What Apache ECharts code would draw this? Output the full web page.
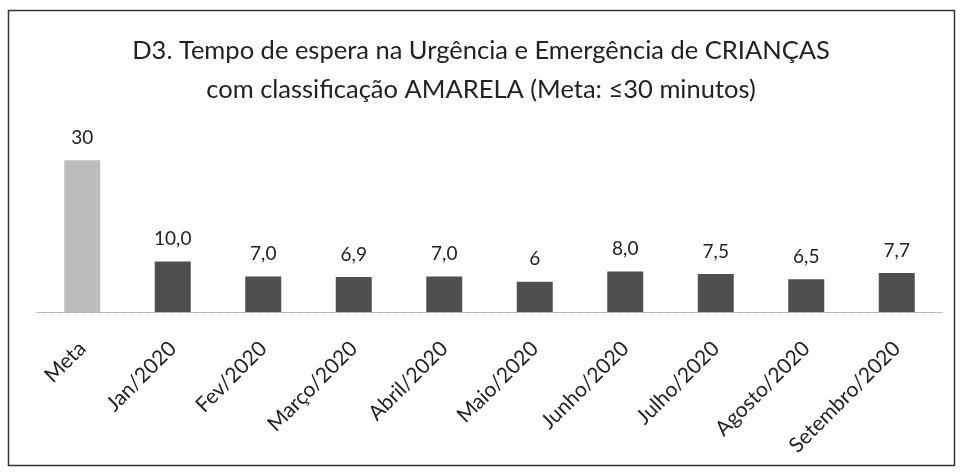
<!DOCTYPE html>
<html><head><meta charset="utf-8">
<script src="https://cdn.jsdelivr.net/npm/echarts@6/dist/echarts.min.js"></script>
<style>html,body{margin:0;padding:0;background:#fff}#c{width:962px;height:476px}</style>
</head><body><div id="c"></div>
<script>
const categories = ['Meta','Jan/2020','Fev/2020','Março/2020','Abril/2020','Maio/2020','Junho/2020','Julho/2020','Agosto/2020','Setembro/2020'];
const values = [30, 10.0, 7.0, 6.9, 7.0, 6, 8.0, 7.5, 6.5, 7.7];
const valueLabels = ['30','10,0','7,0','6,9','7,0','6','8,0','7,5','6,5','7,7'];
const titleText = 'D3. Tempo de espera na Urgência e Emergência de CRIANÇAS\ncom classificação AMARELA (Meta: ≤30 minutos)';

const FONT = 'Lato, "Open Sans", sans-serif';
const chart = echarts.init(document.getElementById('c'), null, {renderer:'canvas'});
chart.setOption({
  animation: false,
  backgroundColor: '#fff',
  title: {
    text: titleText, left: 'center', top: 26,
    textStyle: {fontFamily: FONT, fontSize: 25.5, fontWeight: 'normal', color: '#222', lineHeight: 39}
  },
  graphic: [{type:'rect', shape:{x:8.5,y:10.5,width:946,height:455}, style:{fill:'none', stroke:'#333', lineWidth:1.5}, silent:true}],
  grid: {left: 37, right: 20, top: 135, bottom: 164},
  xAxis: {
    type: 'category', data: categories,
    axisLine: {show: true, lineStyle: {color: '#aaa', type: 'dotted', width: 1}},
    axisTick: {show: false},
    axisLabel: {rotate: 45, margin: 33, fontFamily: FONT, fontSize: 21, color: '#222'}
  },
  yAxis: {type: 'value', min: 0, max: 35, show: false, splitLine: {show: false}},
  series: [{
    type: 'bar', barWidth: 36,
    data: values.map((v, i) => ({value: v, itemStyle: {color: i === 0 ? '#bdbdbd' : '#4f4f4f'}})),
    label: {
      show: true, position: 'top', distance: 13,
      fontFamily: FONT, fontSize: 19, color: '#222',
      formatter: p => valueLabels[p.dataIndex]
    }
  }]
});
</script></body></html>
